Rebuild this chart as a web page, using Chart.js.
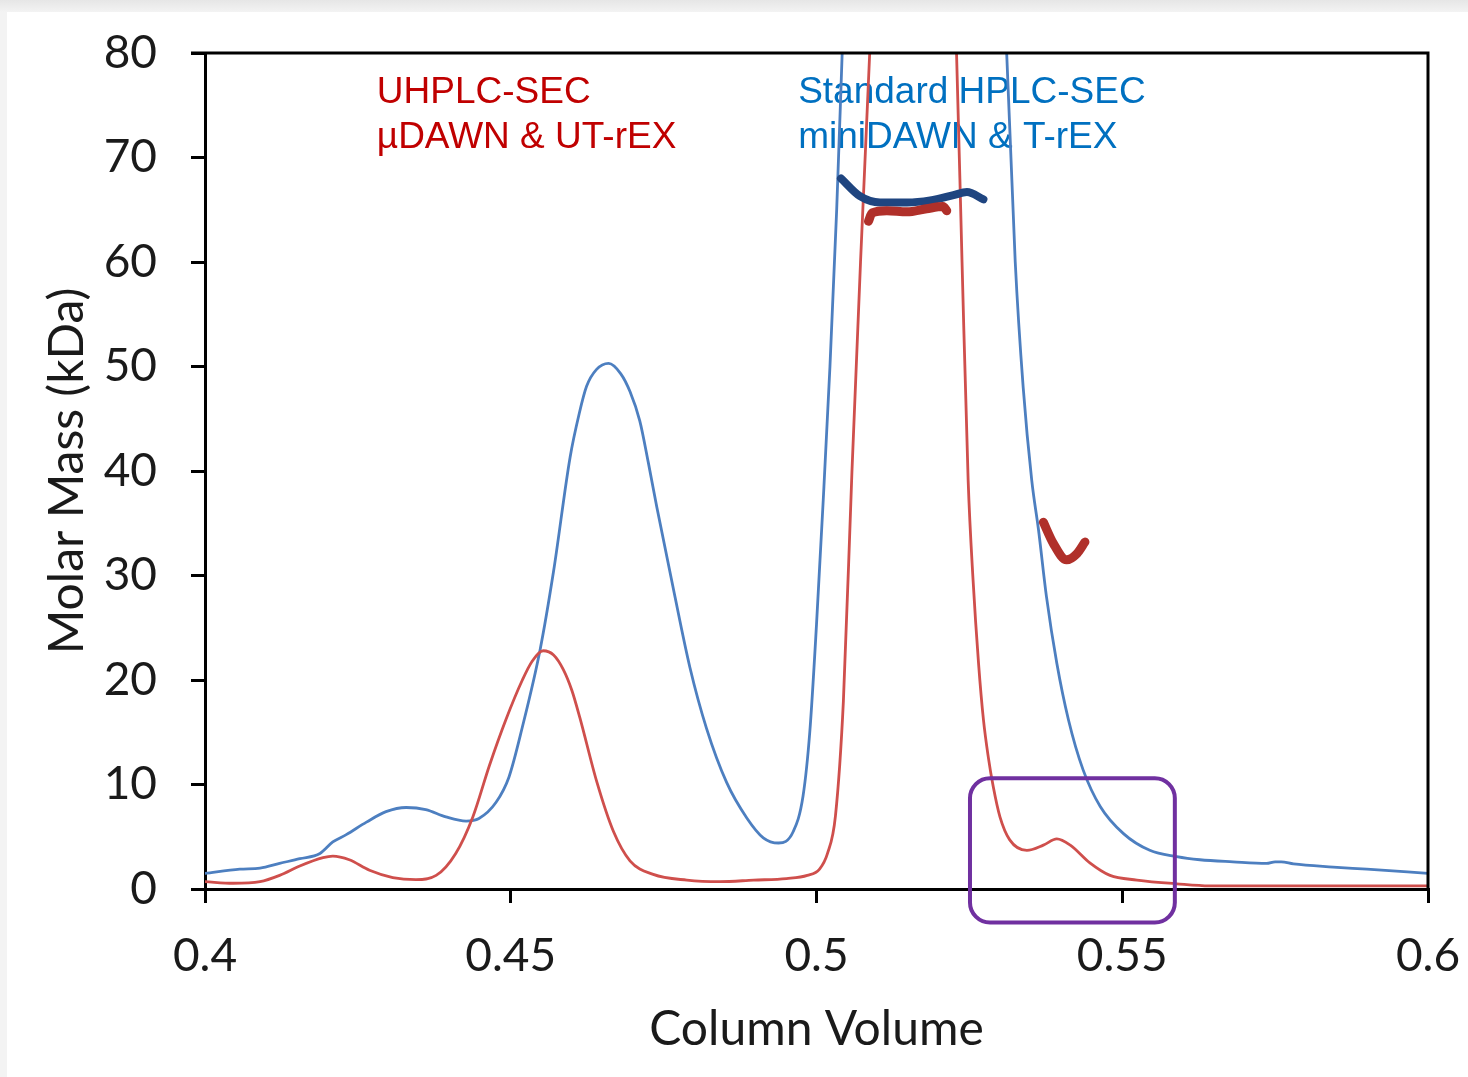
<!DOCTYPE html>
<html lang="en">
<head>
<meta charset="UTF-8">
<title>Molar Mass vs Column Volume</title>
<script src="https://cdn.jsdelivr.net/npm/chart.js"></script>
<style>
  html, body { margin: 0; padding: 0; }
  body { width: 1468px; height: 1077px; background: linear-gradient(#e6e6e6, #f3f3f3 12px); overflow: hidden; position: relative; }
  #wrap { position: absolute; left: 7px; top: 12px; width: 1461px; height: 1065px; background: #fff; }
</style>
</head>
<body>
<div id="wrap"><canvas id="chart" width="1461" height="1065"></canvas></div>
<script>
// x ticks
const xTicks = [0.4, 0.45, 0.5, 0.55, 0.6];

// Standard HPLC-SEC (blue trace)
const blueX = [0.4000, 0.4057, 0.4090, 0.4122, 0.4155, 0.4188, 0.4209, 0.4231, 0.4264, 0.4296,
  0.4329, 0.4361, 0.4394, 0.4427, 0.4448, 0.4476, 0.4497, 0.4519, 0.4548, 0.4570,
  0.4597, 0.4612, 0.4624, 0.4640, 0.4660, 0.4680, 0.4695, 0.4711, 0.4725, 0.4739, 0.4766, 0.4793, 0.4820, 0.4853,
  0.4886, 0.4913, 0.4938, 0.4962, 0.4978, 0.4989, 0.5000, 0.5011, 0.5022, 0.5033,
  0.5042, 0.5060, 0.5180, 0.5295, 0.5311, 0.5325, 0.5338, 0.5352, 0.5363, 0.5376,
  0.5393, 0.5412, 0.5436, 0.5464, 0.5502, 0.5545, 0.5589, 0.5627, 0.5681, 0.5736,
  0.5750, 0.5760, 0.5780, 0.5845, 0.5900, 0.6000];
const blueY = [1.5, 1.9, 2.0, 2.45, 2.9, 3.4, 4.5, 5.2, 6.4, 7.4,
  7.8, 7.6, 6.9, 6.5, 6.75, 8.3, 10.7, 15.5, 22.9, 30.4,
  41.3, 45.5, 48.1, 49.7, 50.3, 49.3, 47.6, 44.8, 40.8, 36.5, 28.7, 21.2, 15.4, 10.2,
  6.8, 4.9, 4.4, 5.5, 8.9, 15.0, 25.3, 37.2, 50, 65,
  80, 110, 140, 110, 80, 60, 48, 39.1, 34.4, 28.0,
  21.6, 16.2, 11.4, 7.9, 5.3, 3.7, 3.1, 2.8, 2.6, 2.45,
  2.6, 2.6, 2.4, 2.1, 1.9, 1.5];

// UHPLC-SEC (red trace)
const redX = [0.4000, 0.4046, 0.4090, 0.4122, 0.4155, 0.4193, 0.4209, 0.4236, 0.4269, 0.4307,
  0.4345, 0.4378, 0.4410, 0.4438, 0.4465, 0.4492, 0.4519, 0.4535, 0.4553, 0.4570, 0.4586,
  0.4600, 0.4613, 0.4641, 0.4668, 0.4695, 0.4733, 0.4788, 0.4842, 0.4897, 0.4951, 0.4985,
  0.5005, 0.5018, 0.5031, 0.5044, 0.5058, 0.5072, 0.5087, 0.5110, 0.5160, 0.5210,
  0.5229, 0.5238, 0.5248, 0.5256, 0.5265, 0.5273, 0.5281, 0.5289, 0.5300, 0.5316,
  0.5344, 0.5371, 0.5393, 0.5415, 0.5447, 0.5480, 0.5524, 0.5589, 0.5643, 0.5800, 0.6000];
const redY = [0.7, 0.55, 0.7, 1.3, 2.2, 3.0, 3.15, 2.8, 1.8, 1.1,
  0.9, 1.3, 3.4, 6.9, 11.8, 16.2, 20.0, 21.8, 22.8, 22.4, 21.0,
  19.0, 16.4, 10.2, 5.5, 2.7, 1.4, 0.85, 0.7, 0.85, 1.0, 1.3,
  1.9, 3.4, 7.0, 18, 40, 60, 80, 115, 130, 110,
  80, 60, 39.1, 29.6, 21.6, 16.2, 12.6, 9.8, 6.9, 4.7,
  3.7, 4.2, 4.8, 4.2, 2.5, 1.3, 0.86, 0.5, 0.3, 0.3, 0.3];

// molar mass across main peak
const blueMassX = [0.5040, 0.5071, 0.5104, 0.5148, 0.5186, 0.5224, 0.5246, 0.5273];
const blueMassY = [68.0, 66.3, 65.7, 65.7, 65.9, 66.4, 66.7, 66.0];
const redMassX = [0.5085, 0.5091, 0.5115, 0.5148, 0.5180, 0.5207, 0.5213];
const redMassY = [63.9, 64.7, 64.9, 64.8, 65.1, 65.3, 64.9];
// molar mass across small late peak
const redMass2X = [0.5371, 0.5387, 0.5409, 0.5426, 0.5439];
const redMass2Y = [35.1, 33.1, 31.5, 32.1, 33.2];

// highlighted region (column volume / kDa)
const boxX = [0.5251, 0.5586];
const boxY = [-3.2, 10.6];

const zip = (xs, ys) => xs.map((x, i) => ({ x: x, y: ys[i] }));

const frame = {
  id: 'frame',
  beforeDatasetsDraw(chart) {
    const { ctx, scales: { x, y } } = chart;
    ctx.save();
    ctx.textBaseline = 'middle';
    ctx.textAlign = 'left';
    ctx.font = '37px "Liberation Sans", Arial, sans-serif';
    ctx.fillStyle = '#c00000';
    ctx.fillText('UHPLC-SEC', x.getPixelForValue(0.4281), y.getPixelForValue(76.2));
    ctx.fillText('µDAWN & UT-rEX', x.getPixelForValue(0.4281), y.getPixelForValue(71.9));
    ctx.fillStyle = '#0070c0';
    ctx.fillText('Standard HPLC-SEC', x.getPixelForValue(0.4970), y.getPixelForValue(76.2));
    ctx.fillText('miniDAWN & T-rEX', x.getPixelForValue(0.4970), y.getPixelForValue(71.9));
    ctx.restore();
  },
  afterDraw(chart) {
    const { ctx, chartArea: a, scales: { x, y } } = chart;
    ctx.save();
    ctx.strokeStyle = '#000';
    ctx.lineWidth = 3;
    ctx.beginPath();
    ctx.moveTo(a.left - 14, a.top);
    ctx.lineTo(a.right, a.top);
    ctx.lineTo(a.right, a.bottom);
    ctx.stroke();
    // purple box
    const x0 = x.getPixelForValue(boxX[0]), x1 = x.getPixelForValue(boxX[1]);
    const y0 = y.getPixelForValue(boxY[1]), y1 = y.getPixelForValue(boxY[0]);
    ctx.strokeStyle = '#7030a0';
    ctx.lineWidth = 4;
    ctx.beginPath();
    ctx.roundRect(x0, y0, x1 - x0, y1 - y0, 20);
    ctx.stroke();
    ctx.restore();
  }
};

const tickFont = { family: 'Lato', size: 46 };
const titleFont = { family: 'Lato', size: 48 };

new Chart(document.getElementById('chart'), {
  type: 'line',
  data: {
    datasets: [
      { data: zip(redMassX, redMassY), borderColor: '#b0302a', borderWidth: 9, order: 0 },
      { data: zip(redMass2X, redMass2Y), borderColor: '#b0302a', borderWidth: 9, order: 0 },
      { data: zip(blueMassX, blueMassY), borderColor: '#1f4580', borderWidth: 8, order: 1 },
      { data: zip(redX, redY), borderColor: '#cf4f4c', borderWidth: 2.8, order: 2 },
      { data: zip(blueX, blueY), borderColor: '#4d7fc0', borderWidth: 2.8, order: 3 }
    ]
  },
  options: {
    responsive: false,
    animation: false,
    events: [],
    elements: {
      point: { radius: 0 },
      line: { cubicInterpolationMode: 'monotone', borderCapStyle: 'round', borderJoinStyle: 'round' }
    },
    layout: { padding: { left: 0, top: 41, right: 40, bottom: 0 } },
    plugins: { legend: { display: false }, tooltip: { enabled: false } },
    scales: {
      x: {
        type: 'linear', min: 0.4, max: 0.6,
        afterBuildTicks: s => { s.ticks = xTicks.map(v => ({ value: v })); },
        afterFit: s => { s.height = 188; s.paddingLeft = 0; s.paddingRight = 0; },
        ticks: { font: tickFont, color: '#1a1a1a', padding: 26, maxRotation: 0, callback: v => String(+v.toFixed(2)) },
        grid: { drawOnChartArea: false, tickLength: 14, color: '#000', lineWidth: 3 },
        border: { color: '#000', width: 3 },
        title: { display: true, text: 'Column Volume', font: titleFont, color: '#1a1a1a', padding: { top: 0, bottom: 19 } }
      },
      y: {
        min: 0, max: 80,
        ticks: { stepSize: 10, font: tickFont, color: '#1a1a1a', padding: 34 },
        afterFit: s => { s.width = 198; s.paddingTop = 0; s.paddingBottom = 0; },
        grid: { drawOnChartArea: false, tickLength: 14, color: '#000', lineWidth: 3 },
        border: { color: '#000', width: 3 },
        title: { display: true, text: 'Molar Mass (kDa)', font: titleFont, color: '#1a1a1a', padding: { top: 32, bottom: 0 } }
      }
    }
  },
  plugins: [frame]
});
</script>
</body>
</html>
